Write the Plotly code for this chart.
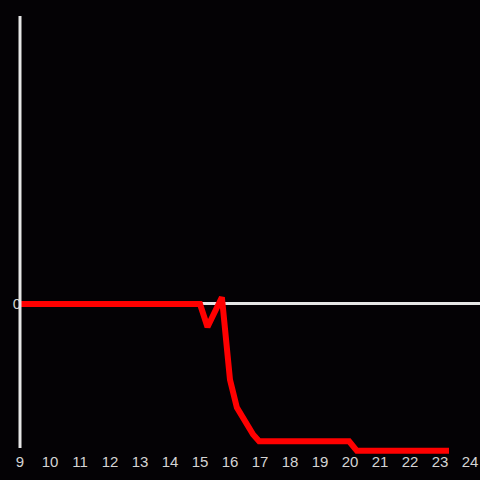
import plotly.graph_objects as go

# Hour of day vs. value
hours = [9, 15, 15.25, 15.73, 16.0, 16.23, 16.77, 16.97, 19.97, 20.23, 23.3]
values = [0, 0, -0.24, 0.07, -0.79, -1.08, -1.36, -1.43, -1.43, -1.53, -1.53]
x_ticks = list(range(9, 25))

fig = go.Figure()

fig.add_trace(
    go.Scatter(
        x=hours,
        y=values,
        mode="lines",
        line=dict(color="#ff0000", width=6),
        showlegend=False,
    )
)

# Left axis line stops a little above the bottom of the plot area
fig.add_shape(
    type="line",
    xref="paper",
    yref="y",
    x0=0,
    x1=0,
    y0=-1.5,
    y1=3,
    line=dict(color="#e6e6e6", width=3),
)

fig.update_layout(
    width=480,
    height=480,
    margin=dict(l=20, r=0, t=16, b=25),
    paper_bgcolor="#040205",
    plot_bgcolor="#040205",
    font=dict(family="Liberation Sans", size=15, color="#d4d4d4"),
    xaxis=dict(
        range=[9, 24.333],
        tickvals=x_ticks,
        showgrid=False,
        zeroline=False,
        showline=False,
        ticks="",
        ticklabelstandoff=-4,
    ),
    yaxis=dict(
        range=[-1.573, 3],
        tickvals=[0],
        showgrid=False,
        zeroline=True,
        zerolinecolor="#e6e6e6",
        zerolinewidth=3,
        showline=False,
        ticks="",
        ticklabelstandoff=-2,
    ),
)

fig.write_html(
    "out.html",
    config={"displayModeBar": False},
    post_script="document.body.style.margin = '0';",
)
